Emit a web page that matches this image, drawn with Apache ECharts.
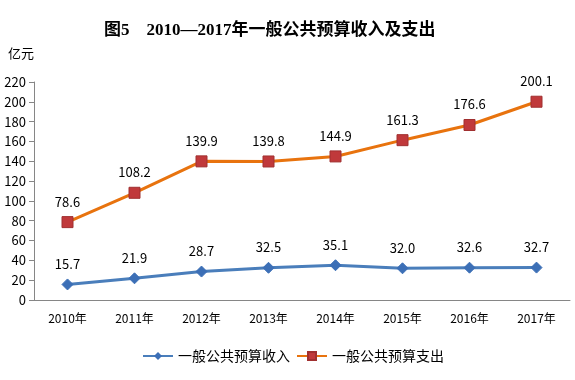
<!DOCTYPE html>
<html><head><meta charset="utf-8">
<script src="https://cdn.jsdelivr.net/npm/echarts@6/dist/echarts.min.js"></script>
<style>html,body{margin:0;padding:0;background:#fff}#c{width:575px;height:380px}</style>
</head><body><div id="c"></div>
<script>
var categories = ['2010年','2011年','2012年','2013年','2014年','2015年','2016年','2017年'];
var income = [15.7, 21.9, 28.7, 32.5, 35.1, 32.0, 32.6, 32.7];
var expense = [78.6, 108.2, 139.9, 139.8, 144.9, 161.3, 176.6, 200.1];
var yTicks = [0,20,40,60,80,100,120,140,160,180,200,220];
var titleText = '图5　2010—2017年一般公共预算收入及支出';
var unitText = '亿元';
var seriesNames = ['一般公共预算收入','一般公共预算支出'];

var chart = echarts.init(document.getElementById('c'), null, {renderer:'canvas'});
var font = '"Noto Sans CJK SC",sans-serif';
chart.setOption({
  animation:false,
  textStyle:{fontFamily:font},
  title:{text:titleText,left:99,top:17,textStyle:{fontFamily:'"Liberation Serif","Noto Sans CJK SC",serif',fontWeight:'bold',fontSize:17,color:'#000'}},
  graphic:[{type:'text',left:8,top:47,style:{text:unitText,font:'13px '+font,fill:'#000'}}],
  legend:{bottom:12,left:137,itemWidth:30,itemHeight:10,itemGap:6,textStyle:{fontSize:14,color:'#000',fontFamily:font},
    data:[seriesNames[0],seriesNames[1]]},
  grid:{left:34,right:5,top:82,bottom:80,containLabel:false},
  xAxis:{type:'category',data:categories,boundaryGap:true,
    axisLine:{lineStyle:{color:'#868686'}},axisTick:{show:false},
    axisLabel:{color:'#000',fontSize:12,margin:12}},
  yAxis:{type:'value',min:yTicks[0],max:yTicks[yTicks.length-1],interval:20,
    axisLine:{show:true,lineStyle:{color:'#868686'}},axisTick:{show:true,inside:false,length:5,lineStyle:{color:'#868686'}},
    splitLine:{show:false},axisLabel:{color:'#000',fontSize:13,margin:8}},
  series:[
    {name:seriesNames[0],type:'line',data:income,symbol:'diamond',symbolSize:11,
     lineStyle:{color:'#4A7EBB',width:3},itemStyle:{color:'#3C6FB6',borderColor:'#3C6FB6'},
     label:{show:true,position:'top',distance:8,color:'#000',fontSize:13,formatter:function(p){return p.value.toFixed(1);}}},
    {name:seriesNames[1],type:'line',data:expense,symbol:'rect',symbolSize:11,
     lineStyle:{color:'#E8730E',width:3},itemStyle:{color:'#C0393B',borderColor:'#A03030',borderWidth:1},
     label:{show:true,position:'top',distance:8,color:'#000',fontSize:13,formatter:function(p){return p.value.toFixed(1);}}}
  ]
});
</script></body></html>
